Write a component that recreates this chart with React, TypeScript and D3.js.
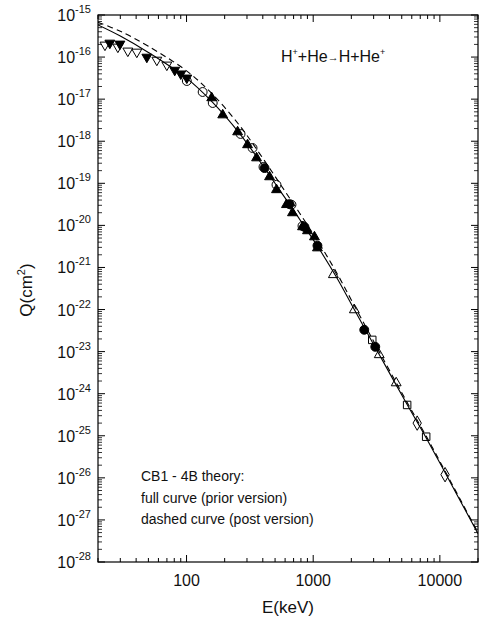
import React from "react";
import * as d3 from "d3";

// ---- data ----
const curveE = [20, 30, 50, 100, 160, 260, 380, 540, 780, 1120, 1520, 2110, 3320, 5500, 7800, 11200, 20000];
const fullQ = [5.8e-16, 3.16e-16, 1.29e-16, 3.16e-17, 8.5e-18, 1.58e-18, 3.3e-19, 7.1e-20, 1.41e-20, 2.7e-21, 6.0e-22, 1.0e-22, 8.5e-24, 5.6e-25, 8.9e-26, 1.2e-26, 4.7e-28];
const dashedQ = [6.7e-16, 4.1e-16, 1.8e-16, 4.7e-17, 1.32e-17, 2.45e-18, 4.95e-19, 1.03e-19, 1.97e-20, 3.65e-21, 7.8e-22, 1.25e-22, 1.0e-23, 6.3e-25, 9.8e-26, 1.3e-26, 5.0e-28];

const openDownE = [22.7, 28.7, 34.4, 40.5, 58.3, 69.9];
const openDownQ = [1.94e-16, 1.74e-16, 1.4e-16, 1.32e-16, 8.5e-17, 6.5e-17];
const filledDownE = [24.8, 29.8, 48.6, 80.7, 90.1, 100.5];
const filledDownQ = [2.16e-16, 2.05e-16, 1.0e-16, 4.9e-17, 4.0e-17, 3.2e-17];
const openCircleE = [100.5, 134, 161, 267, 332, 405, 513, 674, 823];
const openCircleQ = [2.7e-17, 1.48e-17, 8.1e-18, 1.49e-18, 6.9e-19, 2.45e-19, 9.2e-20, 3.1e-20, 9.7e-21];
const filledUpE = [158, 193, 253, 303, 357, 452, 513, 615, 686, 823, 901, 1023, 1080];
const filledUpQ = [1.07e-17, 4.2e-18, 1.66e-18, 8.2e-19, 4.0e-19, 1.42e-19, 7.0e-20, 3.1e-20, 1.98e-20, 9.2e-21, 7.4e-21, 5.3e-21, 2.9e-21];
const filledCircleE = [413, 650, 853, 1080, 2529, 3090];
const filledCircleQ = [2.3e-19, 3.2e-20, 9.2e-21, 3.3e-21, 3.3e-23, 1.3e-23];
const openUpE = [1443, 2113, 3322, 4519];
const openUpQ = [6.7e-22, 9.8e-23, 8.4e-24, 1.8e-24];
const squareE = [2925, 5516, 7795];
const squareQ = [1.9e-23, 5.4e-25, 9.5e-26];
const diamondE = [6622, 10990];
const diamondQ = [2.0e-25, 1.19e-26];

const yExponents = [-15, -16, -17, -18, -19, -20, -21, -22, -23, -24, -25, -26, -27, -28];
const xTickLabels = [100, 1000, 10000];
const noteLines = ["CB1 - 4B theory:", "full curve (prior version)", "dashed curve (post version)"];

const FONT = "'Liberation Sans', Arial, Helvetica, sans-serif";

export default function App() {
  const W = 479, H = 625;
  const left = 98, right = 478, top = 15, bottom = 562;
  const x = d3.scaleLog().domain([20, 20000]).range([left, right]);
  const y = d3.scaleLog().domain([1e-28, 1e-15]).range([bottom, top]);

  const line = d3
    .line<[number, number]>()
    .x((d) => x(d[0]))
    .y((d) => y(d[1]))
    .curve(d3.curveCatmullRom.alpha(0.5));

  const fullPath = line(curveE.map((e, i) => [e, fullQ[i]] as [number, number])) || "";
  const dashPath = line(curveE.map((e, i) => [e, dashedQ[i]] as [number, number])) || "";

  const xTicks = x.ticks();
  const yMinor: number[] = [];
  for (let p = -28; p < -15; p++) {
    for (let m = 2; m <= 9; m++) yMinor.push(m * Math.pow(10, p));
  }

  const sym = (type: d3.SymbolType, size: number) => d3.symbol().type(type).size(size)() || "";
  const triPath = sym(d3.symbolTriangle, 42);
  const circPath = sym(d3.symbolCircle, 62);
  const sqPath = sym(d3.symbolSquare, 56);
  const diaPath = sym(d3.symbolDiamond, 60);

  const markers = (
    es: number[],
    qs: number[],
    path: string,
    filled: boolean,
    rot: number,
    key: string
  ) =>
    es.map((e, i) => (
      <path
        key={key + i}
        d={path}
        transform={`translate(${x(e)},${y(qs[i])}) rotate(${rot})`}
        fill={filled ? "#000" : "none"}
        stroke="#000"
        strokeWidth={1}
      />
    ));

  return (
    <svg
      width={W}
      height={H}
      style={{ position: "absolute", left: 0, top: 0, background: "#fff" }}
      fontFamily={FONT}
    >
      <rect x={0} y={0} width={W} height={H} fill="#fff" />
      <defs>
        <clipPath id="plotclip">
          <rect x={left} y={top} width={right - left} height={bottom - top} />
        </clipPath>
      </defs>

      {xTicks.map((t, i) => {
        const major = Math.abs(Math.log10(t) - Math.round(Math.log10(t))) < 1e-9;
        const len = major ? 7 : 4;
        const px = x(t);
        return (
          <g key={"xt" + i}>
            <line x1={px} x2={px} y1={bottom} y2={bottom - len} stroke="#000" />
            <line x1={px} x2={px} y1={top} y2={top + len} stroke="#000" />
          </g>
        );
      })}
      {yExponents.map((p) => {
        const py = y(Math.pow(10, p));
        return (
          <g key={"yt" + p}>
            <line x1={left} x2={left + 7} y1={py} y2={py} stroke="#000" />
            <line x1={right} x2={right - 7} y1={py} y2={py} stroke="#000" />
          </g>
        );
      })}
      {yMinor.map((v, i) => {
        const py = y(v);
        return (
          <g key={"ym" + i}>
            <line x1={left} x2={left + 4} y1={py} y2={py} stroke="#000" strokeWidth={0.8} />
            <line x1={right} x2={right - 4} y1={py} y2={py} stroke="#000" strokeWidth={0.8} />
          </g>
        );
      })}

      <g clipPath="url(#plotclip)">
        <path d={fullPath} fill="none" stroke="#000" strokeWidth={1.1} />
        <path d={dashPath} fill="none" stroke="#000" strokeWidth={1.1} strokeDasharray="6,4" />
      </g>

      {markers(openDownE, openDownQ, triPath, false, 180, "od")}
      {markers(filledDownE, filledDownQ, triPath, true, 180, "fd")}
      {markers(openCircleE, openCircleQ, circPath, false, 0, "oc")}
      {markers(filledUpE, filledUpQ, triPath, true, 0, "fu")}
      {markers(filledCircleE, filledCircleQ, circPath, true, 0, "fc")}
      {markers(openUpE, openUpQ, triPath, false, 0, "ou")}
      {markers(squareE, squareQ, sqPath, false, 0, "sq")}
      {markers(diamondE, diamondQ, diaPath, false, 0, "di")}

      <rect x={left} y={top} width={right - left} height={bottom - top} fill="none" stroke="#000" strokeWidth={1.2} />

      {yExponents.map((p) => (
        <text key={"yl" + p} x={91} y={y(Math.pow(10, p)) + 6} textAnchor="end" fontSize={16} fill="#111">
          10
          <tspan dy={-8} fontSize={11}>
            {String(p)}
          </tspan>
        </text>
      ))}

      {xTickLabels.map((t) => (
        <text key={"xl" + t} x={x(t)} y={586} textAnchor="middle" fontSize={16} fill="#111">
          {t}
        </text>
      ))}

      <text x={288} y={613} textAnchor="middle" fontSize={17} fill="#111">
        E(keV)
      </text>
      <text transform="translate(32,290) rotate(-90)" textAnchor="middle" fontSize={17} fill="#111">
        Q(cm
        <tspan dy={-7} fontSize={11}>2</tspan>
        <tspan dy={7}>)</tspan>
      </text>

      <text x={281} y={62} fontSize={16} fill="#111">
        H<tspan dy={-7} fontSize={9}>+</tspan>
        <tspan dy={7}>+He</tspan>
        <tspan dy={-1} fontSize={11}>→</tspan>
        <tspan dy={1}>H+He</tspan>
        <tspan dy={-7} fontSize={9}>+</tspan>
      </text>

      {noteLines.map((s, i) => (
        <text key={"n" + i} x={141} y={481 + i * 21.5} fontSize={14} fill="#111">
          {s}
        </text>
      ))}
    </svg>
  );
}
